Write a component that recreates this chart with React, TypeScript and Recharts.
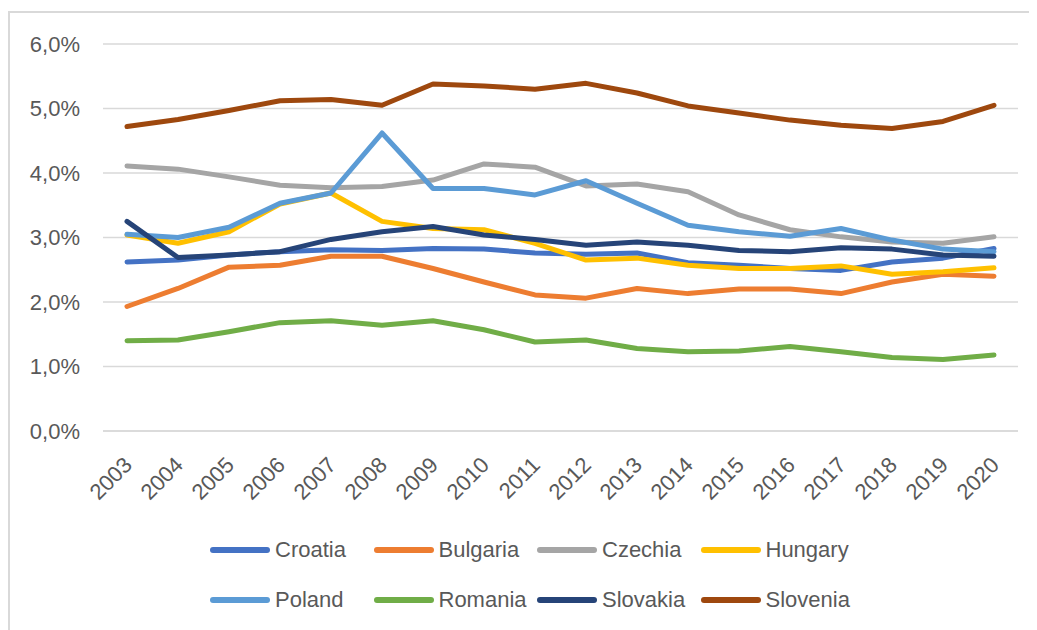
import React from 'react';
import { LineChart, Line, XAxis, YAxis, CartesianGrid, Legend } from 'recharts';

const years = [
    '2003', '2004', '2005', '2006', '2007', '2008', '2009', '2010', '2011',
    '2012', '2013', '2014', '2015', '2016', '2017', '2018', '2019', '2020',
];

// values in percent
const croatia = [2.62, 2.65, 2.73, 2.78, 2.81, 2.8, 2.83, 2.82, 2.76, 2.74, 2.76, 2.61, 2.57, 2.52, 2.49, 2.62, 2.68, 2.83];
const bulgaria = [1.93, 2.21, 2.54, 2.57, 2.71, 2.71, 2.52, 2.31, 2.11, 2.06, 2.21, 2.13, 2.2, 2.2, 2.13, 2.31, 2.43, 2.4];
const czechia = [4.11, 4.06, 3.94, 3.81, 3.77, 3.79, 3.89, 4.14, 4.09, 3.8, 3.83, 3.71, 3.35, 3.12, 3.01, 2.93, 2.91, 3.01];
const hungary = [3.04, 2.91, 3.09, 3.52, 3.69, 3.25, 3.14, 3.12, 2.91, 2.65, 2.68, 2.57, 2.52, 2.52, 2.56, 2.43, 2.47, 2.53];
const poland = [3.05, 3.0, 3.16, 3.53, 3.69, 4.62, 3.76, 3.76, 3.66, 3.88, 3.53, 3.19, 3.09, 3.02, 3.14, 2.96, 2.82, 2.78];
const romania = [1.4, 1.41, 1.54, 1.68, 1.71, 1.64, 1.71, 1.57, 1.38, 1.41, 1.28, 1.23, 1.24, 1.31, 1.23, 1.14, 1.11, 1.18];
const slovakia = [3.25, 2.69, 2.73, 2.78, 2.97, 3.09, 3.17, 3.04, 2.97, 2.88, 2.93, 2.88, 2.8, 2.78, 2.84, 2.82, 2.73, 2.71];
const slovenia = [4.72, 4.83, 4.97, 5.12, 5.14, 5.05, 5.38, 5.35, 5.3, 5.39, 5.24, 5.04, 4.93, 4.82, 4.74, 4.69, 4.8, 5.05];

const yTicks = [0, 1, 2, 3, 4, 5, 6];

const series = [
    { name: 'Croatia', values: croatia, color: '#4472C4' },
    { name: 'Bulgaria', values: bulgaria, color: '#ED7D31' },
    { name: 'Czechia', values: czechia, color: '#A5A5A5' },
    { name: 'Hungary', values: hungary, color: '#FFC000' },
    { name: 'Poland', values: poland, color: '#5B9BD5' },
    { name: 'Romania', values: romania, color: '#70AD47' },
    { name: 'Slovakia', values: slovakia, color: '#264478' },
    { name: 'Slovenia', values: slovenia, color: '#9E480E' },
];

const data = years.map((year, i) => {
    const row: Record<string, string | number> = { year };
    series.forEach((s) => {
        row[s.name] = s.values[i];
    });
    return row;
});

const textColor = '#595959';
const fontFamily = '"Liberation Sans", Arial, sans-serif';

const YearTick = (props: any) => {
    const { x, y, payload } = props;
    const tx = x + 1;
    const ty = y + 22;
    return (
        <text
            x={tx}
            y={ty}
            transform={`rotate(-45, ${tx}, ${ty})`}
            textAnchor="end"
            dy="0.35em"
            fill={textColor}
            fontSize={22}
            fontFamily={fontFamily}
        >
            {payload.value}
        </text>
    );
};

const renderLegend = () => (
    <div
        style={{
            display: 'grid',
            gridTemplateColumns: 'repeat(4, 163.5px)',
            gridAutoRows: '50px',
            paddingLeft: 200,
            marginTop: -5,
            fontFamily,
            fontSize: 22,
            color: textColor,
        }}
    >
        {series.map((s) => (
            <div key={s.name} style={{ display: 'flex', alignItems: 'center' }}>
                <span
                    style={{
                        display: 'inline-block',
                        width: 60,
                        height: 6,
                        borderRadius: 3,
                        background: s.color,
                        marginRight: 5,
                    }}
                />
                <span>{s.name}</span>
            </div>
        ))}
    </div>
);

const App: React.FC = () => {
    return (
        <div style={{ paddingTop: 3 }}>
            <div
                style={{
                    width: 1029,
                    height: 619,
                    borderTop: '2px solid #d9d9d9',
                    borderLeft: '2px solid #d9d9d9',
                    background: '#fff',
                    fontFamily,
                }}
            >
                <LineChart
                    width={1027}
                    height={617}
                    data={data}
                    margin={{ top: 31, right: 19, left: 0, bottom: 0 }}
                >
                    <CartesianGrid vertical={false} stroke="#d9d9d9" strokeWidth={1.5} />
                    <XAxis
                        dataKey="year"
                        height={99}
                        padding={{ left: 24, right: 24 }}
                        interval={0}
                        tickLine={false}
                        axisLine={{ stroke: '#d9d9d9', strokeWidth: 1.5 }}
                        tick={<YearTick />}
                    />
                    <YAxis
                        width={93}
                        domain={[0, 6]}
                        ticks={yTicks}
                        interval={0}
                        axisLine={false}
                        tickLine={false}
                        tickMargin={17}
                        tick={{ fill: textColor, fontSize: 22 }}
                        tickFormatter={(v: number) => `${v.toFixed(1).replace('.', ',')}%`}
                    />
                    <Legend
                        verticalAlign="bottom"
                        height={100}
                        wrapperStyle={{ left: 0, width: 1027 }}
                        content={renderLegend}
                    />
                    {series.map((s) => (
                        <Line
                            key={s.name}
                            type="linear"
                            dataKey={s.name}
                            stroke={s.color}
                            strokeWidth={5}
                            strokeLinecap="round"
                            strokeLinejoin="round"
                            dot={false}
                            activeDot={false}
                            isAnimationActive={false}
                        />
                    ))}
                </LineChart>
            </div>
        </div>
    );
};

export default App;
